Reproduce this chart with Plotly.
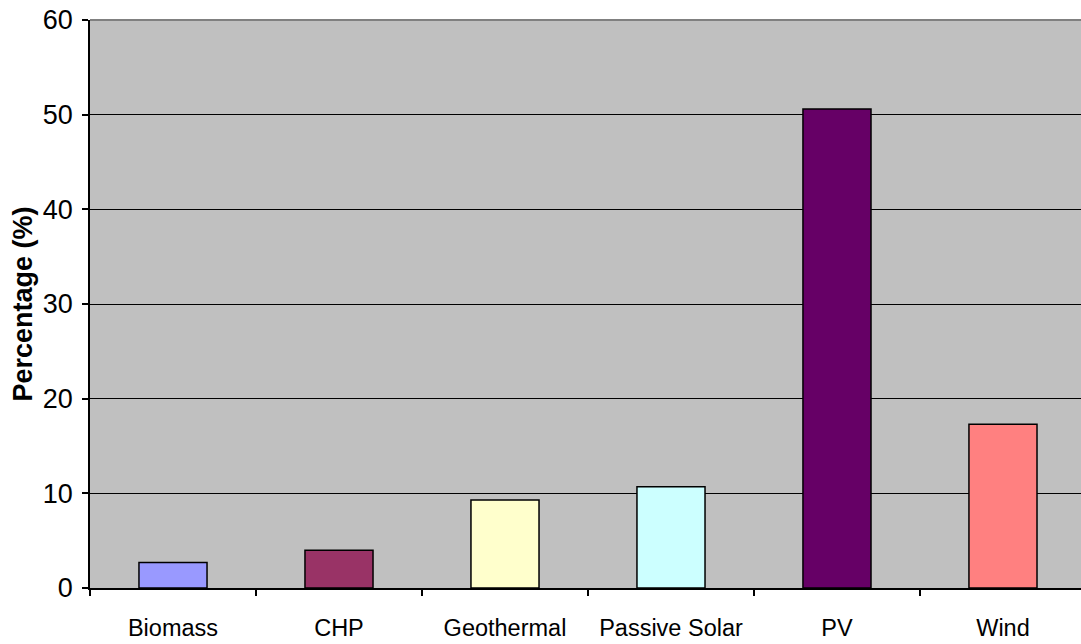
import plotly.graph_objects as go

categories = ["Biomass", "CHP", "Geothermal", "Passive Solar", "PV", "Wind"]
values = [2.7, 4.0, 9.3, 10.7, 50.6, 17.3]
colors = ["#9999FF", "#993366", "#FFFFCC", "#CCFFFF", "#660066", "#FF8080"]
y_ticks = [0, 10, 20, 30, 40, 50, 60]

fig = go.Figure()
fig.add_trace(go.Bar(
    x=categories, y=values,
    marker=dict(color=colors, line=dict(color="black", width=1.5)),
    width=0.41,
))

fig.update_layout(
    width=1081, height=644,
    margin=dict(l=90, r=0, t=20, b=56, autoexpand=False),
    paper_bgcolor="white",
    plot_bgcolor="#C0C0C0",
    showlegend=False,
    font=dict(family="Arial, Liberation Sans, sans-serif", color="black"),
    xaxis=dict(
        type="category",
        range=[-0.5, 5.47],
        showgrid=False,
        showline=True, linecolor="black", linewidth=1.5,
        ticks="outside", tickson="boundaries", ticklen=6, tickcolor="black", tickwidth=1.5,
        tickfont=dict(size=23.5),
        ticklabelstandoff=18,
        ticklabeloverflow="allow",
        automargin=False,
    ),
    yaxis=dict(
        range=[0, 60],
        tickvals=y_ticks,
        showgrid=True, gridcolor="black", gridwidth=1.2,
        showline=True, linecolor="black", linewidth=1.5,
        ticks="outside", ticklen=6, tickcolor="black", tickwidth=1.5,
        tickfont=dict(size=27),
        ticklabelstandoff=4,
        ticklabeloverflow="allow",
        zeroline=False,
        automargin=False,
        title=dict(text="<b>Percentage (%)</b>", font=dict(size=27), standoff=2),
    ),
    shapes=[dict(type="line", xref="paper", yref="paper", x0=0, x1=1, y0=1, y1=1,
                 line=dict(color="#808080", width=2))],
)

fig.write_html("out.html", config={"displayModeBar": False},
               post_script="document.body.style.margin='0';")
